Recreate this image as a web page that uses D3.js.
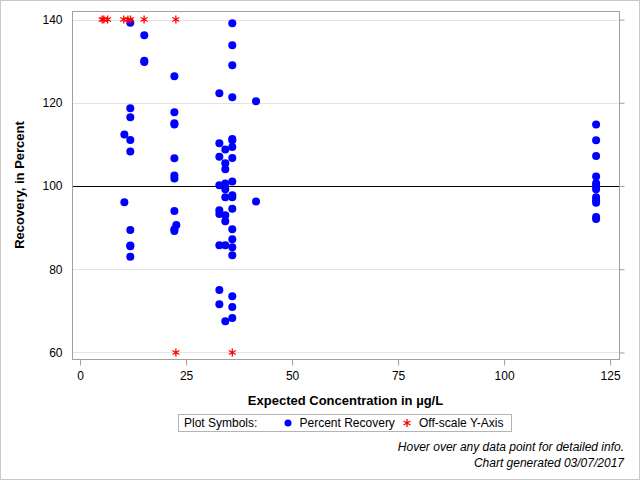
<!DOCTYPE html>
<html><head><meta charset="utf-8">
<script src="https://cdn.jsdelivr.net/npm/d3@7"></script>
<style>
body{margin:0;background:#fff}
svg{display:block;font-family:"Liberation Sans",Arial,sans-serif}
</style>
</head><body>
<svg id="chart" width="640" height="480"></svg>
<script>
// ---- data ----
const recoveryConc = [
  10.45, 10.45,
  11.85, 11.85, 11.85, 11.85, 11.85, 11.85, 11.85, 11.85, 11.85,
  15.15, 15.15, 15.15,
  22.25, 22.25, 22.25, 22.25, 22.25, 22.25, 22.25, 22.25, 22.25, 22.25, 22.7,
  32.85, 32.85, 32.85, 32.85, 32.85, 32.85, 32.85, 32.85, 32.85,
  34.25, 34.25, 34.25, 34.25, 34.25, 34.25, 34.25, 34.25, 34.25, 34.25,
  35.9, 35.9, 35.9, 35.9, 35.9, 35.9, 35.9, 35.9, 35.9, 35.9,
  35.9, 35.9, 35.9, 35.9, 35.9, 35.9, 35.9, 35.9, 35.9,
  41.5, 41.5,
  121.7, 121.7, 121.7, 121.7, 121.7, 121.7, 121.7, 121.7, 121.7, 121.7, 121.7, 121.7
];
const recoveryPct = [
  112.4, 96.1,
  139.2, 118.7, 116.5, 111.05, 108.3, 89.4, 85.7, 85.5, 83.0,
  136.2, 130.1, 129.8,
  126.35, 117.7, 115.1, 114.8, 106.65, 102.5, 101.8, 94.0, 89.6, 89.2, 90.6,
  122.3, 110.25, 107.0, 100.15, 94.2, 93.3, 85.75, 75.0, 71.6,
  108.8, 105.45, 104.0, 100.6, 99.2, 97.3, 92.95, 91.5, 85.75, 67.5,
  139.1, 133.8, 129.0, 121.3, 111.3, 111.0, 109.4, 106.7, 101.1, 97.8,
  97.3, 94.55, 89.6, 87.2, 85.3, 83.35, 73.5, 70.9, 68.3,
  120.35, 96.3,
  114.8, 111.0, 107.2, 102.3, 100.65, 100.0, 99.2, 97.3, 96.6, 96.0, 92.55, 92.1
];
// off-scale points, drawn at the axis limit
const offscaleConc = [5.2, 5.6, 6.5, 10.3, 11.3, 11.9, 15.1, 22.6, 22.6, 35.9];
const offscaleY    = [140, 140, 140, 140, 140, 140, 140, 140, 60, 60];

const xTicks = [0, 25, 50, 75, 100, 125];
const yTicks = [60, 80, 100, 120, 140];
const gridValues = [60, 80, 120, 140];
const referenceValue = 100;

const xTitle = "Expected Concentration in \u00b5g/L";
const yTitle = "Recovery, in Percent";
const legendTitle = "Plot Symbols:";
const seriesNames = ["Percent Recovery", "Off-scale Y-Axis"];
const footnotes = ["Hover over any data point for detailed info.", "Chart generated 03/07/2017"];

// ---- layout ----
const svg = d3.select("#chart");
const L = 72, R = 619, T = 11, B = 359;
const x = d3.scaleLinear().domain([-1.9, 127.1]).range([L, R]);
const y = d3.scaleLinear().domain([58.43, 142.05]).range([B, T]);
const blue = "#0000ff", red = "#ff0000";

// outer border
svg.append("rect").attr("x", 0.5).attr("y", 0.5).attr("width", 639).attr("height", 479)
  .attr("fill", "none").attr("stroke", "#c8c8c8");

// grid lines
svg.append("g").selectAll("line").data(gridValues).join("line")
  .attr("x1", L).attr("x2", R)
  .attr("y1", d => Math.round(y(d)) + 0.5).attr("y2", d => Math.round(y(d)) + 0.5)
  .attr("stroke", "#e4e4e4");

// reference line
svg.append("line").attr("x1", L).attr("x2", R)
  .attr("y1", Math.round(y(referenceValue)) + 0.5).attr("y2", Math.round(y(referenceValue)) + 0.5)
  .attr("stroke", "#000");

// axes
const xAxis = svg.append("g").attr("transform", `translate(0,${B + 0.5})`)
  .call(d3.axisBottom(x).tickValues(xTicks).tickSize(6).tickPadding(6).tickFormat(d3.format("d")));
const yAxis = svg.append("g").attr("transform", `translate(${L + 0.5},0)`)
  .call(d3.axisLeft(y).tickValues(yTicks).tickSize(0).tickPadding(10).tickFormat(d3.format("d")));
const y2Axis = svg.append("g").attr("transform", `translate(${R + 0.5},0)`)
  .call(d3.axisRight(y).tickValues(yTicks).tickSize(5).tickFormat(""));
[xAxis, yAxis, y2Axis].forEach(g => {
  g.select(".domain").remove();
  g.selectAll("line").attr("stroke", "#a0a0a0");
  g.selectAll("text").attr("font-family", "'Liberation Sans',Arial,sans-serif")
    .attr("font-size", 12).attr("fill", "#000");
});

// frame
svg.append("rect").attr("x", L + 0.5).attr("y", T + 0.5).attr("width", R - L).attr("height", B - T)
  .attr("fill", "none").attr("stroke", "#a0a0a0");

// points
const pts = recoveryConc.map((c, i) => ({c, v: recoveryPct[i]}));
svg.append("g").selectAll("circle").data(pts).join("circle")
  .attr("cx", d => x(d.c)).attr("cy", d => y(d.v)).attr("r", 4)
  .attr("fill", blue);

// asterisk marker
function asterisk(r) {
  const a = Math.PI / 6;
  const cx = r * Math.cos(a), sy = r * Math.sin(a);
  return `M0,${-r}L0,${r}M${-cx},${-sy}L${cx},${sy}M${-cx},${sy}L${cx},${-sy}`;
}
const off = offscaleConc.map((c, i) => ({c, v: offscaleY[i]}));
svg.append("g").selectAll("path").data(off).join("path")
  .attr("transform", d => `translate(${x(d.c)},${y(d.v)})`)
  .attr("d", asterisk(4)).attr("stroke", red).attr("stroke-width", 1.3).attr("fill", "none");

// titles
svg.append("text").attr("x", (L + R) / 2).attr("y", 404.5).attr("text-anchor", "middle")
  .attr("font-size", 13).attr("font-weight", "bold").text(xTitle);
svg.append("text").attr("transform", `translate(23.5,${(T + B) / 2}) rotate(-90)`)
  .attr("text-anchor", "middle").attr("font-size", 13).attr("font-weight", "bold").text(yTitle);

// legend
const lg = svg.append("g");
lg.append("rect").attr("x", 178.5).attr("y", 414.5).attr("width", 333).attr("height", 17)
  .attr("fill", "none").attr("stroke", "#b4b4b4");
lg.append("text").attr("x", 184).attr("y", 427).attr("font-size", 12).text(legendTitle);
lg.append("circle").attr("cx", 288).attr("cy", 423).attr("r", 3.5).attr("fill", blue);
lg.append("text").attr("x", 299.5).attr("y", 427).attr("font-size", 12).text(seriesNames[0]);
lg.append("path").attr("transform", "translate(407,423)").attr("d", asterisk(4))
  .attr("stroke", red).attr("stroke-width", 1.3).attr("fill", "none");
lg.append("text").attr("x", 419).attr("y", 427).attr("font-size", 12).text(seriesNames[1]);

// footnotes
svg.append("g").selectAll("text").data(footnotes).join("text")
  .attr("x", 624).attr("y", (d, i) => 451 + i * 16).attr("text-anchor", "end")
  .attr("font-size", 12).attr("font-style", "italic").text(d => d);
</script>
</body></html>
